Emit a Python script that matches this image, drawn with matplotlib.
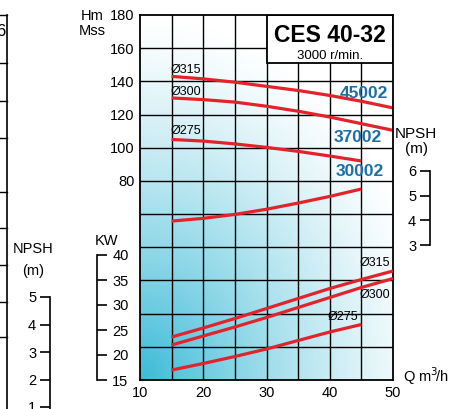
import numpy as np
import matplotlib
matplotlib.use("Agg")
import matplotlib.pyplot as plt
from matplotlib.patches import Rectangle
from matplotlib.lines import Line2D
from matplotlib.colors import LinearSegmentedColormap

plt.rcParams['font.family'] = ['Liberation Sans', 'DejaVu Sans']

# ---------------- data ----------------
q_full = [15, 20, 25, 30, 35, 40, 45, 50]
q_short = [15, 20, 25, 30, 35, 40, 45]

h_315 = [143, 141.5, 139.5, 137, 134.5, 131.5, 128, 124]
h_300 = [130, 129, 127.5, 125, 122, 118.5, 114.5, 110.5]
h_275 = [105, 104, 102.3, 100.2, 97.8, 95, 92]

npsh = [3.97, 4.08, 4.24, 4.45, 4.7, 4.97, 5.27]

kw_315 = [23.6, 25.4, 27.3, 29.3, 31.3, 33.3, 35.1, 36.8]
kw_300 = [22.0, 23.8, 25.6, 27.5, 29.5, 31.5, 33.5, 35.3]
kw_275 = [17.0, 18.3, 19.7, 21.2, 22.9, 24.6, 26.1]

x_ticks = [10, 20, 30, 40, 50]
h_ticks = [80, 100, 120, 140, 160, 180]
kw_ticks = [15, 20, 25, 30, 35, 40]
npsh_ticks = [3, 4, 5, 6]
npsh_left_ticks = [1, 2, 3, 4, 5]

title = "CES 40-32"
subtitle = "3000 r/min."
models = ["45002", "37002", "30002"]
diam = ["Ø315", "Ø300", "Ø275"]

RED = "#e2232b"
BLUE = "#1c6ea6"

W, H = 451, 409
fig = plt.figure(figsize=(W / 100, H / 100), dpi=100)
fig.patch.set_facecolor("white")

def fx(x):
    return x / W

def fy(y):
    return 1 - y / H

L, R, T, B = 140, 393, 15, 380
ax = fig.add_axes([fx(L), fy(B), (R - L) / W, (B - T) / H])
ax.set_xlim(10, 50)
ax.set_ylim(-40, 180)

# gradient background
nx, ny = 300, 300
xx, yy = np.meshgrid(np.linspace(0, 1, nx), np.linspace(0, 1, ny))
d = np.sqrt((xx * 0.85) ** 2 + (yy * 1.0) ** 2)
a = np.clip(1 - d / 1.0, 0, 1) ** 1.25
cmap = LinearSegmentedColormap.from_list("g", ["#ffffff", "#3dbbd7"])
ax.imshow(a, cmap=cmap, vmin=0, vmax=1, origin="lower", extent=[10, 50, -40, 180],
          aspect="auto", zorder=0, interpolation="bilinear")

# grid
for xv in np.arange(15, 50, 5):
    ax.axvline(xv, color="black", lw=1.0, zorder=1)
for yv in np.arange(-20, 180, 20):
    ax.axhline(yv, color="black", lw=1.0, zorder=1)

ax.set_xticks(x_ticks)
ax.set_xticklabels([str(v) for v in x_ticks], fontsize=10.5)
ax.set_yticks(h_ticks)
ax.set_yticklabels([str(v) for v in h_ticks], fontsize=10.5)
ax.tick_params(length=0, pad=4)
for s in ax.spines.values():
    s.set_linewidth(1.3)
    s.set_zorder(5)

# H-Q curves
ax.plot(q_full, h_315, color=RED, lw=2.3, zorder=3, solid_capstyle="butt")
ax.plot(q_full, h_300, color=RED, lw=2.3, zorder=3, solid_capstyle="butt")
ax.plot(q_short, h_275, color=RED, lw=2.3, zorder=3, solid_capstyle="butt")

# title box
ax.add_patch(Rectangle((30, 151), 20, 29, facecolor="white", edgecolor="black",
                       lw=1.3, zorder=4))
ax.text(40, 167.5, title, ha="center", va="center", fontsize=16.5,
        fontweight="bold", zorder=6)
ax.text(40, 155.5, subtitle, ha="center", va="center", fontsize=9.5, zorder=6)

# KW axis
axk = ax.twinx()
axk.set_ylim(15, 15 + (B - T) / 5.0)
axk.set_xlim(10, 50)
axk.patch.set_visible(False)
for s in ["top", "left", "bottom"]:
    axk.spines[s].set_visible(False)
axk.spines["right"].set_position(("axes", (97 - L) / (R - L)))
axk.spines["right"].set_bounds(15, 40)
axk.spines["right"].set_linewidth(1.2)
axk.set_yticks(kw_ticks)
axk.set_yticklabels([str(v) for v in kw_ticks], fontsize=10.5)
axk.tick_params(axis="y", direction="out", length=7, width=1.2, pad=4)
axk.plot(q_full, kw_315, color=RED, lw=2.3, zorder=3, solid_capstyle="butt")
axk.plot(q_full, kw_300, color=RED, lw=2.3, zorder=3, solid_capstyle="butt")
axk.plot(q_short, kw_275, color=RED, lw=2.3, zorder=3, solid_capstyle="butt")

# NPSH right axis
axn = ax.twinx()
pxu = 24.67
axn.set_ylim(6 - (B - 171) / pxu, 6 + (171 - T) / pxu)
axn.set_xlim(10, 50)
axn.patch.set_visible(False)
for s in ["top", "right", "bottom"]:
    axn.spines[s].set_visible(False)
axn.spines["left"].set_visible(True)
axn.spines["left"].set_position(("axes", (430 - L) / (R - L)))
axn.spines["left"].set_bounds(3, 6)
axn.spines["left"].set_linewidth(1.2)
axn.yaxis.set_ticks_position("left")
axn.yaxis.set_label_position("left")
axn.set_yticks(npsh_ticks)
axn.set_yticklabels([str(v) for v in npsh_ticks], fontsize=10.5)
axn.tick_params(axis="y", direction="out", length=7, width=1.2, pad=3)
axn.plot(q_short, npsh, color=RED, lw=2.3, zorder=3, solid_capstyle="butt")

# NPSH left (neighbour chart) axis
axl = fig.add_axes([fx(50), 0, 0.0001, 1])
axl.set_ylim(5 - (H - 297) / 27.5, 5 + 297 / 27.5)
axl.patch.set_visible(False)
for s in ["top", "right", "bottom"]:
    axl.spines[s].set_visible(False)
axl.spines["left"].set_bounds(0.5, 5)
axl.spines["left"].set_linewidth(1.2)
axl.set_xticks([])
axl.yaxis.set_ticks_position("left")
axl.spines["left"].set_position(("axes", 1.0))
axl.set_yticks(npsh_left_ticks)
axl.set_yticklabels([str(v) for v in npsh_left_ticks], fontsize=10.5)
axl.tick_params(axis="y", direction="out", length=7, width=1.2, pad=3)
# axis ticks face left: mirror by placing spine
fig.text(fx(33), fy(249), "NPSH", ha="center", va="center", fontsize=10.5)
fig.text(fx(33), fy(271), "(m)", ha="center", va="center", fontsize=10.5)

# neighbour chart frame fragment
fig.add_artist(Line2D([fx(7), fx(7)], [fy(15), 0], color="black", lw=1.2))
for yv in [15, 63, 101, 138, 192, 228, 265, 302, 337]:
    fig.add_artist(Line2D([0, fx(7)], [fy(yv), fy(yv)], color="black", lw=1.0))
fig.text(fx(-4), fy(31), "6", ha="left", va="center", fontsize=12)

# labels
fig.text(fx(92), fy(16), "Hm", ha="center", va="center", fontsize=10.5)
fig.text(fx(92), fy(31), "Mss", ha="center", va="center", fontsize=10.5)
fig.text(fx(107), fy(241), "KW", ha="center", va="center", fontsize=10.5)
fig.text(fx(416), fy(134), "NPSH", ha="center", va="center", fontsize=11)
fig.text(fx(416), fy(149), "(m)", ha="center", va="center", fontsize=11)
fig.text(fx(426), fy(376), "Q m$^3\\!$/h", ha="center", va="center", fontsize=10.5)

fig.text(fx(388), fy(93), models[0], ha="right", va="center", fontsize=12.5,
         fontweight="bold", color=BLUE)
fig.text(fx(382), fy(138), models[1], ha="right", va="center", fontsize=12.5,
         fontweight="bold", color=BLUE)
fig.text(fx(384), fy(172), models[2], ha="right", va="center", fontsize=12.5,
         fontweight="bold", color=BLUE)

fig.text(fx(171), fy(70), diam[0], ha="left", va="center", fontsize=9)
fig.text(fx(171), fy(92), diam[1], ha="left", va="center", fontsize=9)
fig.text(fx(171), fy(131), diam[2], ha="left", va="center", fontsize=9)
fig.text(fx(360), fy(263), diam[0], ha="left", va="center", fontsize=9)
fig.text(fx(360), fy(295), diam[1], ha="left", va="center", fontsize=9)
fig.text(fx(328), fy(317), diam[2], ha="left", va="center", fontsize=9)

fig.savefig("out.png", dpi=100)
